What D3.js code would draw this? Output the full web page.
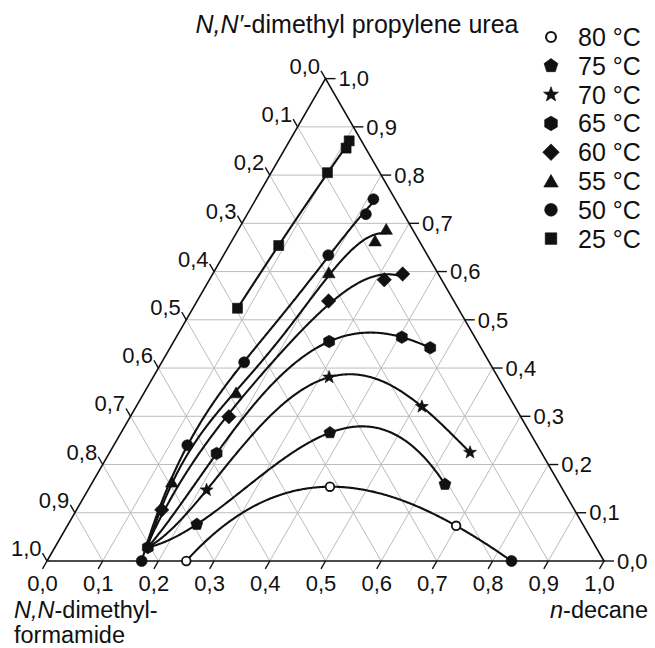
<!DOCTYPE html>
<html><head><meta charset="utf-8">
<script src="https://cdn.jsdelivr.net/npm/d3@7/dist/d3.min.js"></script>
<style>
body{margin:0;background:#fff}
svg{display:block}
text{font-family:"Liberation Sans",Arial,Helvetica,sans-serif;fill:#111}
</style>
</head><body>
<svg id="c" width="655" height="648"></svg>
<script>
// ---- tick values / labels ----
const tickValues = [0,0.1,0.2,0.3,0.4,0.5,0.6,0.7,0.8,0.9,1.0];
const tickLabels = ["0,0","0,1","0,2","0,3","0,4","0,5","0,6","0,7","0,8","0,9","1,0"];

// ---- legend ----
const legendLabels = ["80 °C","75 °C","70 °C","65 °C","60 °C","55 °C","50 °C","25 °C"];
const legendTypes  = ["openCircle","pentagon","star","hexagon","diamond","triangle","circle","square"];

// ---- data: mass fractions (n-decane, DMPU); DMF = 1 - decane - DMPU ----
const commonStart = [0.167, 0.028];           // shared DMF-rich end of 55-75 °C curves
const decaneRichEnd = [0.834, 0.000];         // decane-rich end of 80 °C curve

const decane80 = [0.250, 0.431, 0.698];
const dmpu80   = [0.000, 0.154, 0.073];

const decane75 = [0.231, 0.375, 0.635];
const dmpu75   = [0.076, 0.266, 0.159];

const decane70 = [0.213, 0.316, 0.513, 0.647];
const dmpu70   = [0.147, 0.381, 0.320, 0.225];

const decane65 = [0.167, 0.193, 0.279, 0.405, 0.467];
const dmpu65   = [0.028, 0.223, 0.455, 0.464, 0.442];

const decane60 = [0.153, 0.177, 0.236, 0.314, 0.341];
const dmpu60   = [0.106, 0.299, 0.539, 0.583, 0.595];

const decane55 = [0.142, 0.165, 0.207, 0.257, 0.265];
const dmpu55   = [0.164, 0.349, 0.598, 0.664, 0.688];

const decane50 = [0.170, 0.132, 0.148, 0.188, 0.213, 0.211];
const dmpu50   = [0.000, 0.240, 0.412, 0.634, 0.719, 0.750];

const decane25 = [0.080, 0.089, 0.101, 0.109, 0.107];
const dmpu25   = [0.524, 0.654, 0.805, 0.856, 0.871];

// ---- layout ----
const svg = d3.select("#c");
const x0 = 47, x1 = 604, yBase = 561;
const side = x1 - x0;
const H = side * Math.sqrt(3) / 2;
const xS = d3.scaleLinear().domain([0,1]).range([x0, x1]);
const yS = d3.scaleLinear().domain([0,1]).range([yBase, yBase - H]);
const proj = (d, p) => [xS(d + p/2), yS(p)];

const zip = (a, b) => a.map((v, i) => [v, b[i]]);

// ---- grid ----
const grid = svg.append("g").attr("stroke", "#bcbcbc").attr("stroke-width", 1).attr("fill", "none");
tickValues.slice(1, -1).forEach(v => {
  let a = proj(0, v), b = proj(1 - v, v);
  grid.append("line").attr("x1", a[0]).attr("y1", a[1]).attr("x2", b[0]).attr("y2", b[1]);
  a = proj(v, 0); b = proj(v, 1 - v);
  grid.append("line").attr("x1", a[0]).attr("y1", a[1]).attr("x2", b[0]).attr("y2", b[1]);
  a = proj(1 - v, 0); b = proj(0, 1 - v);
  grid.append("line").attr("x1", a[0]).attr("y1", a[1]).attr("x2", b[0]).attr("y2", b[1]);
});

// ---- triangle frame ----
const tri = [proj(0,0), proj(1,0), proj(0,1)];
svg.append("path").attr("d", "M" + tri.map(p => p.join(",")).join("L") + "Z")
  .attr("fill", "none").attr("stroke", "#111").attr("stroke-width", 1.6);

// ---- ticks and labels ----
const axes = svg.append("g");
const tl = 9, fsTick = 22;
tickValues.forEach((v, i) => {
  // bottom: n-decane
  let p = proj(v, 0), e = [p[0] - 0.5*tl, p[1] + 0.866*tl];
  axes.append("line").attr("x1", p[0]).attr("y1", p[1]).attr("x2", e[0]).attr("y2", e[1]).attr("stroke", "#111").attr("stroke-width", 1.4);
  axes.append("text").attr("x", e[0]).attr("y", yBase + 30).attr("text-anchor", "middle").attr("font-size", fsTick).text(tickLabels[i]);
  // right: DMPU
  p = proj(1 - v, v); e = [p[0] + tl + 1, p[1]];
  axes.append("line").attr("x1", p[0]).attr("y1", p[1]).attr("x2", e[0]).attr("y2", e[1]).attr("stroke", "#111").attr("stroke-width", 1.4);
  axes.append("text").attr("x", e[0] + 3).attr("y", e[1]).attr("dy", "0.35em").attr("font-size", fsTick).text(tickLabels[i]);
  // left: DMF
  p = proj(0, 1 - v); e = [p[0] - 0.5*tl, p[1] - 0.866*tl];
  axes.append("line").attr("x1", p[0]).attr("y1", p[1]).attr("x2", e[0]).attr("y2", e[1]).attr("stroke", "#111").attr("stroke-width", 1.4);
  axes.append("text").attr("x", e[0] - 1).attr("y", e[1] + 3).attr("text-anchor", "end").attr("font-size", fsTick).text(tickLabels[i]);
});

// ---- axis titles ----
const t1 = svg.append("text").attr("x", 357).attr("y", 33).attr("text-anchor", "middle").attr("font-size", 25);
t1.append("tspan").attr("font-style", "italic").text("N,N′");
t1.append("tspan").text("-dimethyl propylene urea");
const t2 = svg.append("text").attr("x", 14).attr("y", 618).attr("font-size", 23.5);
t2.append("tspan").attr("font-style", "italic").text("N,N");
t2.append("tspan").text("-dimethyl-");
svg.append("text").attr("x", 14).attr("y", 643).attr("font-size", 23.5).text("formamide");
const t3 = svg.append("text").attr("x", 648).attr("y", 618).attr("text-anchor", "end").attr("font-size", 23.5);
t3.append("tspan").attr("font-style", "italic").text("n");
t3.append("tspan").text("-decane");

// ---- marker shapes ----
function poly(n, r, rot) {
  const pts = d3.range(n).map(k => {
    const a = (rot + k * 360 / n) * Math.PI / 180;
    return [r * Math.cos(a), r * Math.sin(a)];
  });
  return "M" + pts.map(p => p[0].toFixed(2) + "," + p[1].toFixed(2)).join("L") + "Z";
}
function starPath(ro, ri) {
  const pts = d3.range(10).map(k => {
    const a = (-90 + k * 36) * Math.PI / 180, r = k % 2 ? ri : ro;
    return [r * Math.cos(a), r * Math.sin(a)];
  });
  return "M" + pts.map(p => p[0].toFixed(2) + "," + p[1].toFixed(2)).join("L") + "Z";
}
const shapes = {
  openCircle: d3.symbol(d3.symbolCircle, Math.PI * 4.3 * 4.3)(),
  pentagon: poly(5, 6.3, -90),
  star: starPath(6.8, 2.8),
  hexagon: poly(6, 6.3, -90),
  diamond: poly(4, 7.2, -90),
  triangle: poly(3, 7.2, -90),
  circle: d3.symbol(d3.symbolCircle, Math.PI * 5.5 * 5.5)(),
  square: d3.symbol(d3.symbolSquare, 10 * 10)()
};
function marker(g, type, x, y, k) {
  const open = type === "openCircle";
  k = k || 1;
  g.append("path").attr("d", shapes[type])
    .attr("transform", `translate(${x},${y + (type === "triangle" ? 1.6 * k : 0)}) scale(${k})`)
    .attr("fill", open ? "#fff" : "#111")
    .attr("stroke", "#111").attr("stroke-width", open ? 1.8 : 0.6);
}

// ---- least-squares polynomial fit of DMPU-height vs. horizontal position ----
function polyFit(xs, ys, deg) {
  const lo = d3.min(xs), hi = d3.max(xs), m = (lo + hi) / 2, r = (hi - lo) / 2;
  const u = xs.map(x => (x - m) / r), n = deg + 1;
  const A = d3.range(n).map(i => d3.range(n).map(j => d3.sum(u, v => Math.pow(v, i + j))));
  const b = d3.range(n).map(i => d3.sum(u, (v, k) => ys[k] * Math.pow(v, i)));
  for (let c = 0; c < n; c++) {
    let piv = c;
    for (let r2 = c + 1; r2 < n; r2++) if (Math.abs(A[r2][c]) > Math.abs(A[piv][c])) piv = r2;
    [A[c], A[piv]] = [A[piv], A[c]]; [b[c], b[piv]] = [b[piv], b[c]];
    for (let r2 = c + 1; r2 < n; r2++) {
      const f = A[r2][c] / A[c][c];
      for (let k = c; k < n; k++) A[r2][k] -= f * A[c][k];
      b[r2] -= f * b[c];
    }
  }
  const coef = new Array(n).fill(0);
  for (let c = n - 1; c >= 0; c--) {
    let s = b[c];
    for (let k = c + 1; k < n; k++) s -= A[c][k] * coef[k];
    coef[c] = s / A[c][c];
  }
  return x => { const v = (x - m) / r; return coef.reduce((s, c, i) => s + c * Math.pow(v, i), 0); };
}

// ---- series (fit order of each binodal curve) ----
const series = [
  {type: "openCircle", pts: zip(decane80, dmpu80), pre: [], post: [decaneRichEnd], deg: 3},
  {type: "pentagon",   pts: zip(decane75, dmpu75), pre: [commonStart], post: [], deg: 3},
  {type: "star",       pts: zip(decane70, dmpu70), pre: [commonStart], post: [], deg: 4},
  {type: "hexagon",    pts: zip(decane65, dmpu65), pre: [], post: [], deg: 4},
  {type: "diamond",    pts: zip(decane60, dmpu60), pre: [commonStart], post: [], deg: 4},
  {type: "triangle",   pts: zip(decane55, dmpu55), pre: [commonStart], post: [], deg: 4},
  {type: "circle",     pts: zip(decane50, dmpu50), pre: [], post: [], deg: 4},
  {type: "square",     pts: zip(decane25, dmpu25), pre: [], post: [], deg: 2}
];

const line = d3.line();
const curves = svg.append("g").attr("fill", "none").attr("stroke", "#111").attr("stroke-width", 2.1);
series.forEach(s => {
  const all = s.pre.concat(s.pts, s.post);
  const X = all.map(q => q[0] + q[1] / 2), Y = all.map(q => q[1]);
  const f = polyFit(X, Y, s.deg);
  const lo = d3.min(X), hi = d3.max(X);
  const samples = d3.range(0, 301).map(i => { const x = lo + (hi - lo) * i / 300; return [xS(x), yS(f(x))]; });
  curves.append("path").attr("d", line(samples));
});
const marks = svg.append("g");
series.forEach(s => s.pts.forEach(q => { const p = proj(q[0], q[1]); marker(marks, s.type, p[0], p[1]); }));
{ const p = proj(decaneRichEnd[0], decaneRichEnd[1]); marker(marks, "circle", p[0], p[1]); }

// ---- legend ----
const lg = svg.append("g");
legendLabels.forEach((lab, i) => {
  const y = 37 + i * 28.8;
  marker(lg, legendTypes[i], 551, y, 1.15);
  lg.append("text").attr("x", 578).attr("y", y).attr("dy", "0.36em").attr("font-size", 25).text(lab);
});
</script>
</body></html>
